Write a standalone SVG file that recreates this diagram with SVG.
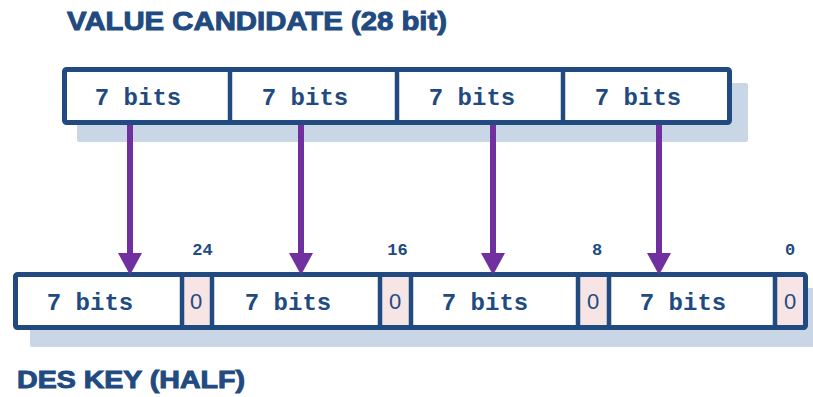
<svg xmlns="http://www.w3.org/2000/svg" width="813" height="397" viewBox="0 0 813 397">
<style>
.title{font-family:"Liberation Sans",Arial,sans-serif;font-weight:bold;fill:#214a80;stroke:#214a80;stroke-width:0.9}
.bits{font-family:"Liberation Mono","Courier New",monospace;font-weight:bold;font-size:24px;fill:#214a80;text-anchor:middle}
.num{font-family:"Liberation Mono","Courier New",monospace;font-weight:bold;font-size:17px;fill:#214a80;text-anchor:middle}
.zero{font-family:"Liberation Sans",Arial,sans-serif;font-size:22px;fill:#214a80;text-anchor:middle}
.shadow{fill:#c9d6e6}
.box{fill:#ffffff;stroke:#214a80;stroke-width:5}
.div{stroke:#214a80;stroke-width:4.5}
.pink{fill:#f7e4e4}
.arr{stroke:#7030a0;stroke-width:6;fill:none}
.head{fill:#7030a0}
</style>
<text class="title" x="67" y="30" font-size="25" textLength="380" lengthAdjust="spacingAndGlyphs">VALUE CANDIDATE (28 bit)</text>
<text class="title" x="17" y="388" font-size="23" textLength="228" lengthAdjust="spacingAndGlyphs">DES KEY (HALF)</text>

<g id="value-candidate">
<rect class="shadow" x="77" y="83" width="671" height="59" rx="2"/>
<rect class="box" x="64.5" y="69.5" width="665" height="53" rx="2"/>
<line class="div" x1="230" y1="69" x2="230" y2="123"/>
<line class="div" x1="397" y1="69" x2="397" y2="123"/>
<line class="div" x1="563" y1="69" x2="563" y2="123"/>
<text class="bits" x="138" y="105">7 bits</text>
<text class="bits" x="305" y="105">7 bits</text>
<text class="bits" x="472" y="105">7 bits</text>
<text class="bits" x="638" y="105">7 bits</text>
</g>

<g id="des-key">
<rect class="shadow" x="30" y="288" width="800" height="59" rx="2"/>
<rect class="box" x="15.5" y="274.5" width="790" height="53" rx="2"/>
<rect class="pink" x="184" y="277" width="26" height="48"/>
<rect class="pink" x="382" y="277" width="27" height="48"/>
<rect class="pink" x="580" y="277" width="27" height="48"/>
<rect class="pink" x="777" y="277" width="26" height="48"/>
<line class="div" x1="182" y1="274" x2="182" y2="328"/>
<line class="div" x1="212" y1="274" x2="212" y2="328"/>
<line class="div" x1="380" y1="274" x2="380" y2="328"/>
<line class="div" x1="411" y1="274" x2="411" y2="328"/>
<line class="div" x1="578" y1="274" x2="578" y2="328"/>
<line class="div" x1="609" y1="274" x2="609" y2="328"/>
<line class="div" x1="775" y1="274" x2="775" y2="328"/>
<text class="bits" x="90" y="310">7 bits</text>
<text class="bits" x="288" y="310">7 bits</text>
<text class="bits" x="485" y="310">7 bits</text>
<text class="bits" x="683" y="310">7 bits</text>
<text class="zero" x="196" y="309">0</text>
<text class="zero" x="395" y="309">0</text>
<text class="zero" x="593" y="309">0</text>
<text class="zero" x="790" y="309">0</text>
<text class="num" x="202.5" y="255">24</text>
<text class="num" x="397.5" y="255">16</text>
<text class="num" x="597" y="255">8</text>
<text class="num" x="790" y="255">0</text>
</g>

<g id="connectors">
<line class="arr" x1="130" y1="125" x2="130" y2="255"/>
<polygon class="head" points="118,253 142,253 130,275"/>
<line class="arr" x1="301" y1="125" x2="301" y2="255"/>
<polygon class="head" points="289,253 313,253 301,275"/>
<line class="arr" x1="493" y1="125" x2="493" y2="255"/>
<polygon class="head" points="481,253 505,253 493,275"/>
<line class="arr" x1="659" y1="125" x2="659" y2="255"/>
<polygon class="head" points="647,253 671,253 659,275"/>
</g>
</svg>
